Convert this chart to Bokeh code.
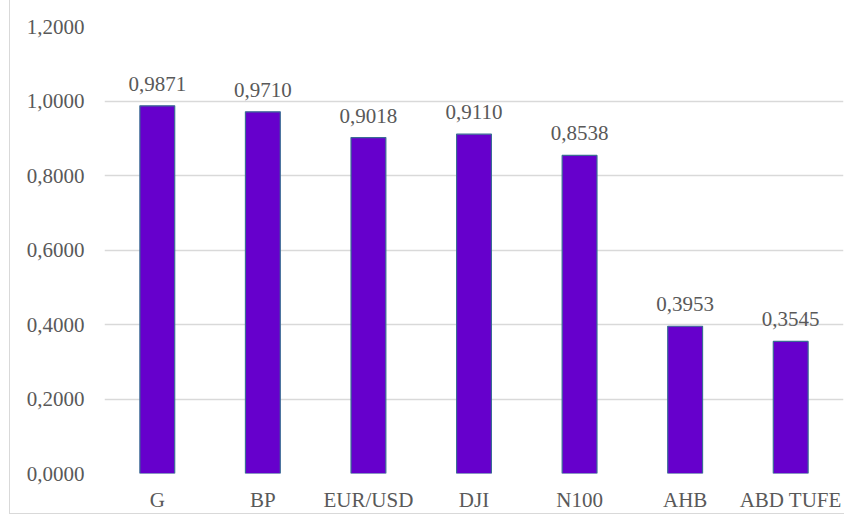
from bokeh.plotting import figure
from bokeh.layouts import row
from bokeh.models import ColumnDataSource, CustomJSTickFormatter, FixedTicker, Range1d, LabelSet, Spacer
from bokeh.embed import file_html
from bokeh.resources import INLINE

categories = ["G", "BP", "EUR/USD", "DJI", "N100", "AHB", "ABD TUFE"]
values = [0.9871, 0.9710, 0.9018, 0.9110, 0.8538, 0.3953, 0.3545]
y_ticks = [0.0, 0.2, 0.4, 0.6, 0.8, 1.0, 1.2]

labels = [f"{v:.4f}".replace(".", ",") for v in values]
src = ColumnDataSource(dict(cat=categories, val=values, lab=labels))

FONT = "'Liberation Serif'"
TXT = "#595959"
FS = "21px"

p = figure(x_range=categories, width=835, height=514, output_backend="svg",
           toolbar_location=None, min_border_left=94, min_border_right=2,
           min_border_top=26, min_border_bottom=40)
p.y_range = Range1d(0, 1.2)
p.outline_line_color = None
p.styles = {"border-left": "1px solid #d9d9d9", "border-bottom": "1px solid #d9d9d9"}

p.vbar(x="cat", top="val", width=0.33, source=src, fill_color="#6600CC",
       line_color="#3A6C94", line_width=1.2)

p.add_layout(LabelSet(x="cat", y="val", text="lab", source=src, y_offset=15,
                      text_align="center", text_baseline="alphabetic",
                      text_font=FONT, text_font_size=FS, text_color=TXT))

p.xgrid.grid_line_color = None
p.ygrid.grid_line_color = "#d9d9d9"
p.ygrid.grid_line_width = 1.3
p.yaxis.ticker = FixedTicker(ticks=y_ticks)
p.yaxis.formatter = CustomJSTickFormatter(code="return tick.toFixed(4).replace('.', ',');")

for ax in (p.xaxis, p.yaxis):
    ax.axis_line_color = None
    ax.major_tick_line_color = None
    ax.minor_tick_line_color = None
    ax.major_tick_in = 0
    ax.major_tick_out = 0
    ax.major_label_text_font = FONT
    ax.major_label_text_font_size = FS
    ax.major_label_text_color = TXT
p.yaxis.major_label_standoff = 20
p.xaxis.major_label_standoff = 14

layout = row(Spacer(width=9, height=514), p)
open("out.html", "w").write(file_html(layout, INLINE))
